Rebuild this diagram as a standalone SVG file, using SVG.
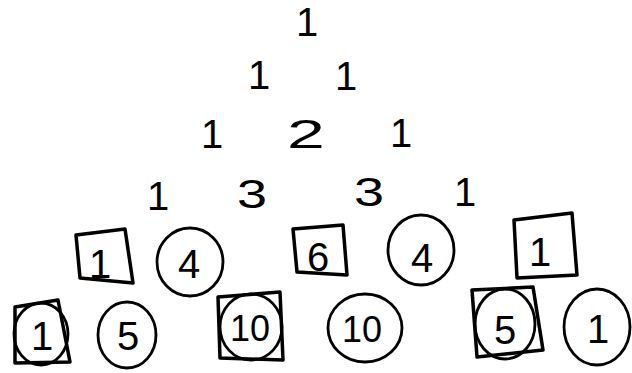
<svg xmlns="http://www.w3.org/2000/svg" width="632" height="373" viewBox="0 0 632 373">
<style>
.t{font-family:"Liberation Sans",Arial,sans-serif;font-size:40px;fill:#000;text-anchor:middle}
.s{fill:none;stroke:#000;stroke-width:3.5;stroke-linejoin:round;stroke-linecap:round}
.c{fill:none;stroke:#000;stroke-width:2.8}
</style>
<rect width="632" height="373" fill="#fff"/>
<g id="row0"><text class="t" x="307" y="36">1</text></g>
<g id="row1"><text class="t" x="259" y="89">1</text><text class="t" x="346" y="90">1</text></g>
<g id="row2"><text class="t" x="212" y="148">1</text><text class="t" x="0" y="148" transform="translate(306,0) scale(1.7,1)">2</text><text class="t" x="401" y="147">1</text></g>
<g id="row3"><text class="t" x="158" y="210">1</text><text class="t" x="0" y="208" transform="translate(252,0) scale(1.35,1)">3</text><text class="t" x="0" y="206" transform="translate(369,0) scale(1.35,1)">3</text><text class="t" x="465" y="206">1</text></g>
<g id="r4n0"><polygon class="s" points="76,235 125,229 133,283 80,278"/><text class="t" x="100" y="278">1</text></g>
<g id="r4n1"><ellipse class="c" cx="190" cy="262" rx="33" ry="34"/><text class="t" x="189" y="278">4</text></g>
<g id="r4n2"><polygon class="s" points="293,229 343,225 347,275 297,272"/><text class="t" x="318" y="271">6</text></g>
<g id="r4n3"><ellipse class="c" cx="421" cy="250" rx="33" ry="35"/><text class="t" x="422" y="272">4</text></g>
<g id="r4n4"><polygon class="s" points="514,220 572,213 577,275 517,278"/><text class="t" x="540" y="266">1</text></g>
<g id="r5n0"><polygon class="s" points="15,307 58,300 70,362 15,363"/><ellipse class="c" cx="41" cy="334" rx="27" ry="31"/><text class="t" x="42" y="350">1</text></g>
<g id="r5n1"><ellipse class="c" cx="127" cy="335" rx="29" ry="33"/><text class="t" x="128" y="350">5</text></g>
<g id="r5n2"><polygon class="s" points="218,297 280,292 283,360 220,358"/><ellipse class="c" cx="251" cy="327" rx="31" ry="33"/><text class="t" x="250" y="341" style="font-size:36px">10</text></g>
<g id="r5n3"><ellipse class="c" cx="365" cy="328" rx="37" ry="34"/><text class="t" x="362" y="342" style="font-size:36px">10</text></g>
<g id="r5n4"><polygon class="s" points="472,290 533,287 543,350 477,357"/><ellipse class="c" cx="505" cy="324" rx="30" ry="35"/><text class="t" x="505" y="344">5</text></g>
<g id="r5n5"><ellipse class="c" cx="597" cy="327" rx="33" ry="38"/><text class="t" x="598" y="343">1</text></g>
<g id="connectors"></g>
</svg>
